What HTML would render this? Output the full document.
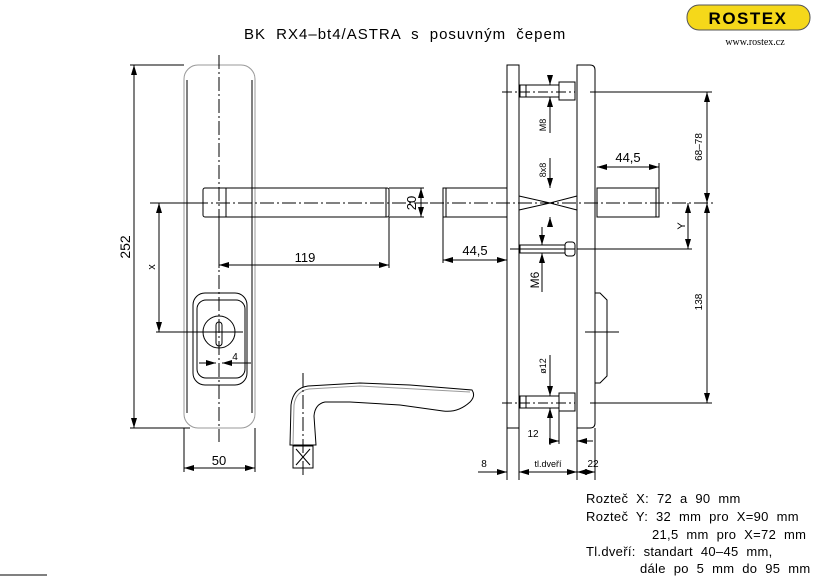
<!DOCTYPE html>
<html><head><meta charset="utf-8"><style>body{margin:0;background:#fff}svg{display:block}</style></head><body>
<svg width="821" height="579" viewBox="0 0 821 579" xmlns="http://www.w3.org/2000/svg" font-family="Liberation Sans, sans-serif">
<defs>
<marker id="a" viewBox="0 0 10 6" refX="10" refY="3" markerWidth="10" markerHeight="6" orient="auto-start-reverse" markerUnits="userSpaceOnUse"><path d="M0,0L10,3L0,6z" fill="#000"/></marker>
</defs>
<g stroke="#000" fill="none" stroke-width="1">
<rect x="184" y="65" width="71" height="363" rx="14" stroke="#999"/>
<line x1="187" y1="80" x2="187" y2="413"/><line x1="252" y1="80" x2="252" y2="413"/>
<line x1="219" y1="55" x2="219" y2="442" stroke-dasharray="14,3,2,3"/>
<rect x="203" y="188" width="186" height="29" rx="2"/>
<line x1="226" y1="188" x2="226" y2="217"/><line x1="386" y1="188" x2="386" y2="217"/>
<line x1="150" y1="203" x2="430" y2="203" stroke-dasharray="14,3,2,3"/>
<rect x="193" y="293" width="54" height="92" rx="12"/>
<rect x="197" y="300" width="48" height="78" rx="9"/>
<circle cx="219" cy="332" r="16"/>
<rect x="216" y="322" width="6" height="24" rx="3"/>
<line x1="199" y1="332" x2="243" y2="332"/>
<line x1="130" y1="65" x2="184" y2="65"/><line x1="130" y1="428" x2="190" y2="428"/>
<line x1="134" y1="65" x2="134" y2="428" marker-start="url(#a)" marker-end="url(#a)"/>
<line x1="156" y1="203" x2="200" y2="203"/><line x1="156" y1="332" x2="205" y2="332"/>
<line x1="159" y1="203" x2="159" y2="332" marker-start="url(#a)" marker-end="url(#a)"/>
<line x1="219" y1="217" x2="219" y2="268"/><line x1="389" y1="217" x2="389" y2="268"/>
<line x1="219" y1="265" x2="389" y2="265" marker-start="url(#a)" marker-end="url(#a)"/>
<line x1="389" y1="188" x2="424" y2="188"/><line x1="389" y1="217" x2="424" y2="217"/>
<line x1="421" y1="188" x2="421" y2="217" marker-start="url(#a)" marker-end="url(#a)"/>
<line x1="199" y1="363" x2="216" y2="363" marker-end="url(#a)"/><line x1="222" y1="363" x2="251" y2="363" marker-start="url(#a)"/>
<line x1="184" y1="428" x2="184" y2="472"/><line x1="255" y1="428" x2="255" y2="472"/>
<line x1="184" y1="468" x2="255" y2="468" marker-start="url(#a)" marker-end="url(#a)"/>
<path d="M290,445 L291,405 Q293,388 308,386 L360,383 L410,385 L472,390 Q476,396 470,402 Q458,413 443,411 L400,405 L350,402 L325,402 Q315,404 314,416 L316,445 Z"/>
<path d="M293,444 L294,405 Q296,391 309,389 L360,386 L470,392" stroke="#999"/>
<line x1="303" y1="373" x2="303" y2="477" stroke-dasharray="14,3,2,3"/>
<rect x="293" y="446" width="20" height="22"/><path d="M296,449L310,465M310,449L296,465"/>
<rect x="507" y="65" width="12" height="363"/>
<path d="M577,65 L590,65 Q595,65 595,70 L595,423 Q595,428 590,428 L577,428 Z"/>
<line x1="519" y1="65" x2="519" y2="428"/><line x1="577" y1="65" x2="577" y2="428"/>
<rect x="443" y="188" width="64" height="29"/><line x1="446" y1="188" x2="446" y2="217"/>
<rect x="597" y="188" width="62" height="29"/><line x1="656" y1="188" x2="656" y2="217"/>
<line x1="430" y1="203" x2="715" y2="203" stroke-dasharray="14,3,2,3"/>
<path d="M519,196 L550,203 L577,196 M519,210 L550,203 L577,210"/>
<rect x="520" y="85" width="39" height="12"/><rect x="559" y="82" width="16" height="18"/><line x1="526" y1="85" x2="526" y2="97"/>
<line x1="502" y1="92" x2="575" y2="92" stroke-dasharray="10,3,2,3"/><line x1="590" y1="92" x2="712" y2="92"/>
<rect x="520" y="396" width="39" height="12"/><rect x="559" y="393" width="16" height="18"/><line x1="526" y1="396" x2="526" y2="408"/>
<line x1="502" y1="403" x2="575" y2="403" stroke-dasharray="10,3,2,3"/><line x1="590" y1="403" x2="712" y2="403"/>
<rect x="520" y="245" width="45" height="8"/><rect x="565" y="242" width="10" height="14" rx="3"/>
<line x1="510" y1="249" x2="575" y2="249"/><line x1="577" y1="249" x2="692" y2="249"/>
<path d="M595,293 L600,293 L607,300 L607,376 L600,383 L595,383"/>
<line x1="585" y1="332" x2="619" y2="332"/>
<line x1="707" y1="92" x2="707" y2="203" marker-start="url(#a)" marker-end="url(#a)"/>
<line x1="707" y1="203" x2="707" y2="403" marker-start="url(#a)" marker-end="url(#a)"/>
<line x1="688" y1="203" x2="688" y2="249" marker-start="url(#a)" marker-end="url(#a)"/>
<line x1="597" y1="167" x2="659" y2="167" marker-start="url(#a)" marker-end="url(#a)"/><line x1="659" y1="163" x2="659" y2="188"/>
<line x1="443" y1="217" x2="443" y2="263"/>
<line x1="443" y1="260" x2="507" y2="260" marker-start="url(#a)" marker-end="url(#a)"/>
<line x1="550" y1="75" x2="550" y2="85" marker-end="url(#a)"/><line x1="550" y1="97" x2="550" y2="133" marker-start="url(#a)"/>
<line x1="550" y1="158" x2="550" y2="188" marker-end="url(#a)"/><line x1="550" y1="217" x2="550" y2="225" marker-start="url(#a)"/>
<line x1="542" y1="227" x2="542" y2="245" marker-end="url(#a)"/><line x1="542" y1="253" x2="542" y2="292" marker-start="url(#a)"/>
<line x1="550" y1="355" x2="550" y2="396" marker-end="url(#a)"/><line x1="550" y1="408" x2="550" y2="445" marker-start="url(#a)"/>
<line x1="559" y1="408" x2="559" y2="444"/>
<line x1="550" y1="441" x2="559" y2="441" marker-end="url(#a)"/><line x1="577" y1="441" x2="593" y2="441" marker-start="url(#a)"/>
<line x1="507" y1="428" x2="507" y2="480"/><line x1="519" y1="428" x2="519" y2="480"/><line x1="577" y1="428" x2="577" y2="480"/><line x1="595" y1="428" x2="595" y2="480"/>
<line x1="478" y1="472" x2="507" y2="472" marker-end="url(#a)"/>
<line x1="519" y1="472" x2="577" y2="472" marker-start="url(#a)" marker-end="url(#a)"/>
<line x1="577" y1="472" x2="595" y2="472" marker-start="url(#a)" marker-end="url(#a)"/>
<line x1="0" y1="575" x2="47" y2="575"/>
</g>
<g fill="#000" font-size="13">
<text x="244" y="39" font-size="15" letter-spacing="1" word-spacing="5">BK RX4–bt4/ASTRA s posuvným čepem</text>
<text transform="translate(130,247) rotate(-90)" text-anchor="middle" font-size="14">252</text>
<text transform="translate(155,267) rotate(-90)" text-anchor="middle" font-size="11">x</text>
<text x="305" y="262" text-anchor="middle">119</text>
<text transform="translate(416,203) rotate(-90)" text-anchor="middle">20</text>
<text x="235" y="360" text-anchor="middle" font-size="10">4</text>
<text x="219" y="465" text-anchor="middle">50</text>
<text x="628" y="162" text-anchor="middle">44,5</text>
<text x="475" y="255" text-anchor="middle">44,5</text>
<text transform="translate(546,125) rotate(-90)" text-anchor="middle" font-size="9">M8</text>
<text transform="translate(546,170) rotate(-90)" text-anchor="middle" font-size="9">8x8</text>
<text transform="translate(539,280) rotate(-90)" text-anchor="middle" font-size="12">M6</text>
<text transform="translate(546,366) rotate(-90)" text-anchor="middle" font-size="9">ø12</text>
<text transform="translate(702,147) rotate(-90)" text-anchor="middle" font-size="10">68–78</text>
<text transform="translate(702,302) rotate(-90)" text-anchor="middle" font-size="10">138</text>
<text transform="translate(685,226) rotate(-90)" text-anchor="middle" font-size="11">Y</text>
<text x="533" y="437" text-anchor="middle" font-size="10">12</text>
<text x="484" y="467" text-anchor="middle" font-size="10">8</text>
<text x="548" y="467" text-anchor="middle" font-size="9">tl.dveří</text>
<text x="593" y="467" text-anchor="middle" font-size="10">22</text>
<g font-size="13" word-spacing="4" letter-spacing="0.3">
<text x="586" y="503">Rozteč X: 72 a 90 mm</text>
<text x="586" y="521">Rozteč Y: 32 mm pro X=90 mm</text>
<text x="652" y="539">21,5 mm pro X=72 mm</text>
<text x="586" y="556">Tl.dveří: standart 40–45 mm,</text>
<text x="640" y="573">dále po 5 mm do 95 mm</text>
</g>
</g>
<rect x="687" y="5" width="123" height="25" rx="12" fill="#f5d81a" stroke="#555"/>
<rect x="698" y="9" width="101" height="17" rx="4" fill="#f5d81a"/>
<text x="748" y="24" text-anchor="middle" font-family="Liberation Sans, sans-serif" font-weight="bold" font-size="17" letter-spacing="1.5" transform="translate(748,0) scale(1,1) translate(-748,0)">ROSTEX</text>
<text x="755" y="45" text-anchor="middle" font-family="Liberation Serif, serif" font-size="10">www.rostex.cz</text>
</svg>
</body></html>
